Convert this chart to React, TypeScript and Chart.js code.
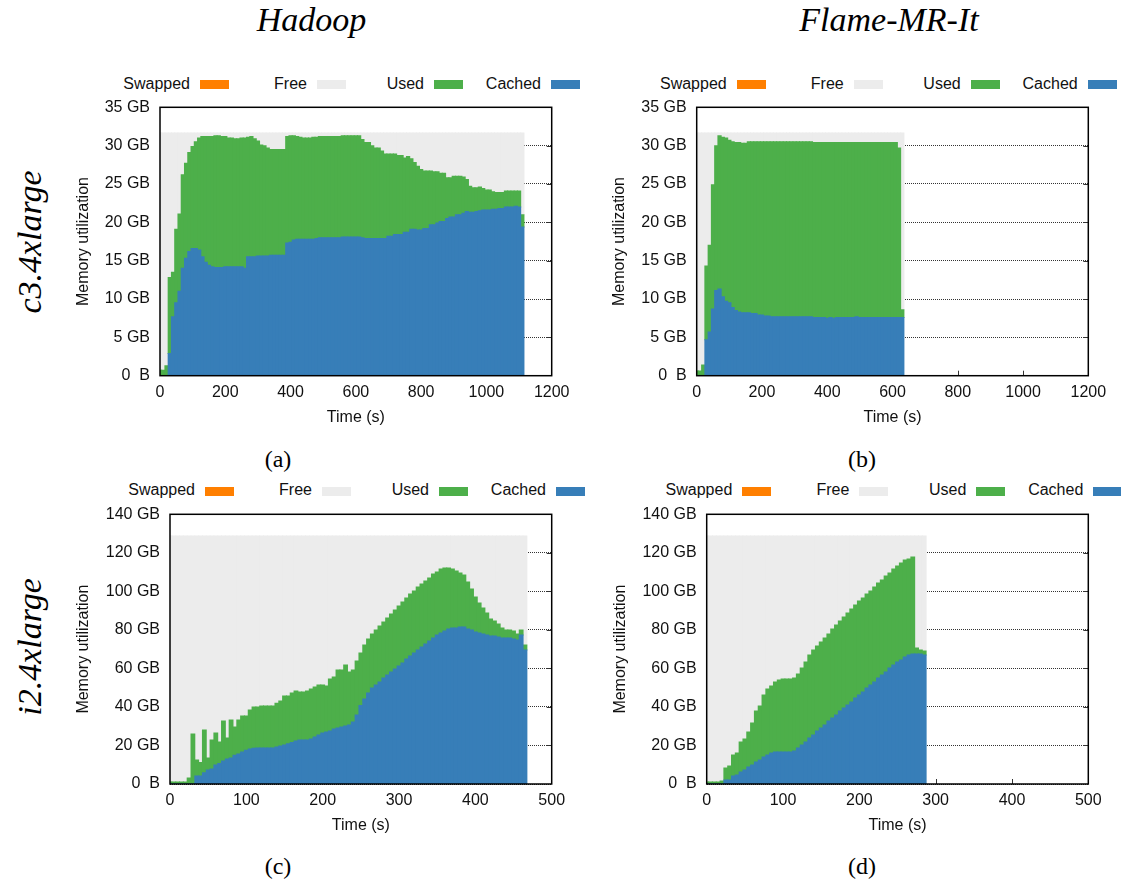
import React, { useEffect, useRef } from "react";
import { Chart, registerables } from "chart.js";

Chart.register(...registerables);

const SANS = "'Liberation Sans', Arial, Helvetica, sans-serif";
const SERIF = "'Liberation Serif', 'Times New Roman', serif";

// ---------------- data ----------------
const LEGEND_LABELS = ["Swapped", "Free", "Used", "Cached"];
const COL_TITLES = ["Hadoop", "Flame-MR-It"];
const ROW_TITLES = ["c3.4xlarge", "i2.4xlarge"];
const CAPTIONS = ["(a)", "(b)", "(c)", "(d)"];
const X_TITLE = "Time (s)";
const Y_TITLE = "Memory utilization";

const C3_TOTAL_GB = 31.65;
const I2_TOTAL_GB = 128.7;

const C3_Y_TICKS = [0, 5, 10, 15, 20, 25, 30, 35];
const C3_Y_LABELS = ["0  B", "5 GB", "10 GB", "15 GB", "20 GB", "25 GB", "30 GB", "35 GB"];
const I2_Y_TICKS = [0, 20, 40, 60, 80, 100, 120, 140];
const I2_Y_LABELS = ["0  B", "20 GB", "40 GB", "60 GB", "80 GB", "100 GB", "120 GB", "140 GB"];
const C3_X_TICKS = [0, 200, 400, 600, 800, 1000, 1200];
const I2_X_TICKS = [0, 100, 200, 300, 400, 500];

// (a) Hadoop, c3.4xlarge — one sample every 10 s
const A_INTERVAL_S = 10;
const A_CACHED = [
  0, 0, 0, 2.9, 7.7, 9.5, 11.0, 14.0, 15.3, 16.2,
  16.6, 16.6, 16.4, 15.5, 14.8, 14.4, 14.2, 14.1, 14.1, 14.1,
  14.2, 14.2, 14.2, 14.2, 14.2, 14.2, 14.0, 15.5, 15.5, 15.5,
  15.6, 15.6, 15.6, 15.6, 15.7, 15.7, 15.7, 15.7, 15.7, 17.3,
  17.4, 17.7, 17.8, 17.8, 17.8, 17.8, 17.8, 17.8, 17.9, 18.0,
  18.0, 18.0, 18.0, 18.0, 18.0, 18.0, 18.1, 18.1, 18.1, 18.1,
  18.1, 18.1, 18.0, 17.9, 17.9, 17.9, 17.9, 17.9, 17.9, 17.9,
  18.2, 18.2, 18.4, 18.4, 18.4, 18.7, 18.7, 19.1, 19.1, 19.0,
  19.0, 19.2, 19.2, 19.7, 19.7, 19.9, 20.1, 20.1, 20.5, 20.7,
  20.7, 21.0, 21.0, 21.2, 21.4, 21.3, 21.3, 21.4, 21.5, 21.6,
  21.6, 21.6, 21.7, 21.7, 21.8, 21.8, 22.0, 22.0, 22.0, 22.1,
  22.0, 19.4,
];
const A_USED = [
  0.7, 0.7, 1.3, 9.9, 5.8, 9.6, 10.1, 12.2, 12.4, 12.9,
  13.3, 13.9, 14.6, 15.7, 16.4, 16.8, 17.0, 17.2, 17.2, 17.1,
  17.0, 16.8, 16.8, 16.7, 16.7, 16.8, 17.0, 15.6, 15.7, 15.4,
  15.0, 14.5, 14.4, 14.1, 13.8, 13.8, 13.8, 13.8, 13.8, 13.9,
  13.9, 13.6, 13.4, 13.3, 13.2, 13.2, 13.2, 13.3, 13.2, 13.2,
  13.2, 13.2, 13.2, 13.2, 13.2, 13.2, 13.2, 13.2, 13.2, 13.2,
  13.2, 13.2, 12.8, 12.5, 12.5, 12.1, 11.8, 11.8, 11.4, 11.0,
  10.7, 10.7, 10.5, 10.3, 10.3, 9.7, 9.9, 9.2, 8.7, 8.3,
  7.9, 7.5, 7.5, 7.0, 6.9, 6.7, 6.3, 6.3, 5.3, 5.1,
  5.3, 5.0, 5.0, 4.7, 4.2, 3.4, 3.2, 3.1, 3.1, 2.8,
  2.6, 2.6, 2.3, 2.2, 2.1, 2.1, 2.1, 2.1, 2.1, 2.0,
  2.1, 1.6,
];

// (b) Flame-MR-It, c3.4xlarge — one sample every 10 s
const B_INTERVAL_S = 10;
const B_CACHED = [
  0, 0, 0, 4.7, 5.7, 8.7, 11.1, 11.3, 10.3, 9.7,
  9.5, 8.9, 8.5, 8.3, 8.2, 8.2, 8.2, 8.1, 8.1, 7.9,
  7.9, 7.8, 7.8, 7.7, 7.7, 7.7, 7.7, 7.7, 7.7, 7.7,
  7.7, 7.7, 7.7, 7.7, 7.7, 7.7, 7.6, 7.6, 7.6, 7.6,
  7.5, 7.6, 7.5, 7.6, 7.6, 7.6, 7.6, 7.6, 7.6, 7.7,
  7.6, 7.6, 7.6, 7.6, 7.6, 7.6, 7.6, 7.6, 7.6, 7.6,
  7.6, 7.6, 7.6, 7.6,
];
const B_USED = [
  0.6, 0.6, 1.4, 9.6, 11.3, 16.2, 18.9, 20.0, 20.8, 21.3,
  21.2, 21.6, 21.9, 22.1, 22.1, 22.1, 22.3, 22.4, 22.4, 22.6,
  22.6, 22.7, 22.7, 22.8, 22.8, 22.8, 22.8, 22.8, 22.8, 22.8,
  22.8, 22.8, 22.8, 22.8, 22.8, 22.8, 22.8, 22.8, 22.8, 22.8,
  22.9, 22.8, 22.9, 22.8, 22.8, 22.8, 22.8, 22.8, 22.8, 22.7,
  22.8, 22.8, 22.8, 22.8, 22.8, 22.8, 22.8, 22.8, 22.8, 22.8,
  22.8, 22.8, 22.1, 1.0,
];

// (c) Hadoop, i2.4xlarge — one sample every 5 s
const C_INTERVAL_S = 5;
const C_CACHED = [
  0, 0, 0, 0, 0, 0, 0, 4.2, 4.2, 5.9,
  7.3, 7.8, 9.9, 10.6, 11.9, 13.0, 13.5, 14.9, 15.6, 16.6,
  17.5, 18.2, 18.5, 18.7, 18.7, 18.7, 18.7, 18.7, 19.2, 19.7,
  20.2, 20.9, 21.5, 22.3, 22.8, 22.8, 22.8, 23.4, 24.4, 25.4,
  26.5, 27.0, 27.5, 28.6, 29.1, 29.6, 30.1, 30.6, 32.2, 35.8,
  40.7, 44.1, 47.2, 49.8, 51.4, 52.9, 55.0, 56.6, 58.1, 59.7,
  61.3, 62.8, 64.9, 66.4, 68.0, 69.6, 71.1, 72.7, 74.2, 75.8,
  77.3, 78.4, 79.4, 80.5, 81.0, 81.0, 81.5, 81.5, 80.5, 79.9,
  78.9, 78.4, 77.9, 77.3, 76.8, 76.8, 76.3, 75.8, 75.8, 75.8,
  75.3, 74.8, 77.3, 69.6,
];
const C_USED = [
  1.0, 1.0, 1.0, 1.0, 1.0, 3.1, 26.0, 8.3, 6.9, 22.1,
  6.2, 15.0, 16.6, 11.2, 20.8, 10.9, 19.7, 14.7, 17.6, 18.7,
  17.8, 20.2, 21.5, 21.3, 21.8, 21.8, 21.8, 21.8, 22.7, 23.4,
  25.5, 24.8, 25.7, 26.0, 25.0, 25.0, 25.5, 25.9, 26.0, 26.0,
  24.9, 23.9, 27.0, 26.9, 30.1, 29.6, 31.7, 27.5, 27.0, 28.1,
  27.3, 28.1, 28.1, 28.1, 28.5, 29.1, 29.1, 29.6, 30.2, 30.6,
  31.1, 31.7, 31.7, 32.2, 32.2, 32.7, 32.7, 32.7, 32.7, 33.2,
  32.8, 33.2, 32.7, 31.6, 30.6, 29.6, 28.0, 27.0, 24.4, 21.3,
  18.2, 15.6, 13.5, 11.5, 8.9, 7.8, 6.8, 5.2, 4.1, 4.1,
  4.1, 3.1, 2.6, 2.6,
];

// (d) Flame-MR-It, i2.4xlarge — one sample every 5 s
const D_INTERVAL_S = 5;
const D_CACHED = [
  0, 0, 0, 0, 0, 2.1, 2.1, 4.2, 4.7, 6.2,
  7.3, 8.8, 9.9, 11.4, 12.5, 14.0, 15.1, 16.1, 16.6, 16.6,
  16.6, 16.6, 16.6, 17.1, 18.7, 20.2, 21.8, 23.9, 25.4, 27.5,
  29.1, 30.6, 32.7, 34.3, 35.8, 37.9, 39.5, 41.0, 42.6, 44.6,
  46.2, 47.8, 49.8, 51.4, 53.0, 55.0, 56.6, 58.1, 60.2, 61.8,
  63.3, 64.4, 65.9, 67.0, 67.5, 67.5, 67.5, 67.0,
];
const D_USED = [
  1.0, 1.0, 1.0, 1.0, 1.6, 6.2, 7.2, 10.9, 11.4, 15.6,
  16.1, 18.2, 21.8, 26.5, 28.0, 32.2, 34.2, 34.8, 36.4, 37.4,
  37.9, 37.9, 37.9, 37.9, 38.4, 40.0, 41.5, 43.1, 44.2, 44.1,
  44.6, 45.2, 45.2, 46.2, 46.7, 46.7, 47.2, 47.8, 48.2, 48.3,
  48.8, 48.8, 48.8, 48.8, 49.3, 49.3, 49.3, 49.9, 49.3, 49.8,
  49.9, 50.3, 50.4, 49.8, 50.3, 3.1, 2.1, 2.0,
];

// ---------------- styling ----------------
const COLORS = {
  swapped: "#ff7f00",
  free: "#ececec",
  used: "#4daf4a",
  cached: "#377eb8",
};
const LEGEND_COLORS = [COLORS.swapped, COLORS.free, COLORS.used, COLORS.cached];
const TEXT = "#111";

type Spec = {
  plot: { l: number; t: number; r: number; b: number };
  yTitleX: number;
  legendX: number;
  legendBottom: number;
  caption: { x: number; y: number; text: string };
  xMax: number;
  xStep: number;
  xTicks: number[];
  yMax: number;
  yStep: number;
  yTicks: number[];
  yLabels: string[];
  interval: number;
  cached: number[];
  used: number[];
  total: number;
};

const SPECS: Spec[] = [
  {
    plot: { l: 160, t: 107.3, r: 551.7, b: 375.7 }, yTitleX: 83.3, legendX: 200, legendBottom: 89,
    caption: { x: 278, y: 461, text: CAPTIONS[0] },
    xMax: 1200, xStep: 200, xTicks: C3_X_TICKS, yMax: 35, yStep: 5, yTicks: C3_Y_TICKS, yLabels: C3_Y_LABELS,
    interval: A_INTERVAL_S, cached: A_CACHED, used: A_USED, total: C3_TOTAL_GB,
  },
  {
    plot: { l: 696.7, t: 107.3, r: 1088.3, b: 375.7 }, yTitleX: 620, legendX: 736.7, legendBottom: 89,
    caption: { x: 862, y: 461, text: CAPTIONS[1] },
    xMax: 1200, xStep: 200, xTicks: C3_X_TICKS, yMax: 35, yStep: 5, yTicks: C3_Y_TICKS, yLabels: C3_Y_LABELS,
    interval: B_INTERVAL_S, cached: B_CACHED, used: B_USED, total: C3_TOTAL_GB,
  },
  {
    plot: { l: 170, t: 514.3, r: 551.7, b: 784 }, yTitleX: 84, legendX: 205, legendBottom: 495.7,
    caption: { x: 278, y: 868, text: CAPTIONS[2] },
    xMax: 500, xStep: 100, xTicks: I2_X_TICKS, yMax: 140, yStep: 20, yTicks: I2_Y_TICKS, yLabels: I2_Y_LABELS,
    interval: C_INTERVAL_S, cached: C_CACHED, used: C_USED, total: I2_TOTAL_GB,
  },
  {
    plot: { l: 706.7, t: 514.3, r: 1088.3, b: 784 }, yTitleX: 620.7, legendX: 742.3, legendBottom: 495.7,
    caption: { x: 862, y: 868, text: CAPTIONS[3] },
    xMax: 500, xStep: 100, xTicks: I2_X_TICKS, yMax: 140, yStep: 20, yTicks: I2_Y_TICKS, yLabels: I2_Y_LABELS,
    interval: D_INTERVAL_S, cached: D_CACHED, used: D_USED, total: I2_TOTAL_GB,
  },
];

function geom(s: Spec) {
  const { l, t, r, b } = s.plot;
  const cx = Math.round(l) - 100;
  const cy = Math.round(t) - 8;
  const cw = Math.round(r) - cx + 30;
  const ch = Math.round(b) - cy + 57;
  return {
    cx, cy, cw, ch,
    yAxisW: l - cx,
    padTop: t - cy,
    padRight: cx + cw - r,
    xAxisH: cy + ch - b,
  };
}

const framePlugin = {
  id: "gnuplotFrame",
  beforeDatasetsDraw(chart: any) {
    const { ctx, chartArea: a, scales } = chart;
    const xs = scales.x;
    const ys = scales.y;
    ctx.save();
    ctx.strokeStyle = "#333";
    ctx.lineWidth = 1;
    ctx.beginPath();
    for (const tk of xs.ticks) {
      const px = Math.round(xs.getPixelForValue(tk.value)) + 0.5;
      if (px <= a.left + 2 || px >= a.right - 2) continue;
      ctx.moveTo(px, a.bottom);
      ctx.lineTo(px, a.bottom - 5);
    }
    for (const tk of ys.ticks) {
      const py = Math.round(ys.getPixelForValue(tk.value)) + 0.5;
      if (py >= a.bottom - 2 || py <= a.top + 2) continue;
      ctx.moveTo(a.left, py);
      ctx.lineTo(a.left + 5, py);
      ctx.moveTo(a.right, py);
      ctx.lineTo(a.right - 5, py);
    }
    ctx.stroke();
    ctx.restore();
  },
  afterDatasetsDraw(chart: any) {
    const { ctx, chartArea: a } = chart;
    ctx.save();
    ctx.strokeStyle = "#000";
    ctx.lineWidth = 1.5;
    ctx.strokeRect(a.left, a.top, a.right - a.left, a.bottom - a.top);
    ctx.restore();
  },
};

function buildConfig(s: Spec): any {
  const g = geom(s);
  const times = s.cached.map((_, i) => i * s.interval);
  const free = s.cached.map((c, i) => Math.max(0, Math.round((s.total - c - s.used[i]) * 100) / 100));
  const mk = (label: string, vals: number[], color: string) => ({
    label,
    data: vals.map((v, i) => ({ x: times[i], y: v })),
    backgroundColor: color,
    borderWidth: 0,
    barPercentage: 1,
    categoryPercentage: 1,
    inflateAmount: 0.5,
    clip: 0,
    stack: "mem",
  });
  const font = { family: SANS, size: 16 };
  return {
    type: "bar",
    data: {
      datasets: [
        mk(LEGEND_LABELS[3], s.cached, COLORS.cached),
        mk(LEGEND_LABELS[2], s.used, COLORS.used),
        mk(LEGEND_LABELS[1], free, COLORS.free),
      ],
    },
    options: {
      animation: false,
      responsive: false,
      maintainAspectRatio: false,
      events: [],
      layout: { padding: { left: 0, top: g.padTop, right: g.padRight, bottom: 0 } },
      plugins: { legend: { display: false }, tooltip: { enabled: false }, title: { display: false } },
      scales: {
        x: {
          type: "linear",
          min: 0,
          max: s.xMax,
          offset: false,
          stacked: true,
          ticks: {
            stepSize: s.xStep,
            padding: 7.2,
            color: TEXT,
            font,
            maxRotation: 0,
            autoSkip: false,
            callback: (v: number) => (s.xTicks.includes(v) ? String(v) : ""),
          },
          grid: { display: false, drawTicks: false, offset: false },
          border: { display: false },
          title: {
            display: true,
            text: X_TITLE,
            color: TEXT,
            font,
            padding: { top: 0, bottom: g.xAxisH - 42 - 9.6 },
          },
          afterFit: (sc: any) => {
            sc.height = g.xAxisH;
            sc.paddingLeft = 0;
            sc.paddingRight = 0;
          },
        },
        y: {
          type: "linear",
          min: 0,
          max: s.yMax,
          stacked: true,
          ticks: {
            stepSize: s.yStep,
            padding: 10,
            color: TEXT,
            font,
            callback: (v: number) => {
              const i = s.yTicks.indexOf(v);
              return i >= 0 ? s.yLabels[i] : "";
            },
          },
          grid: { color: "rgba(0,0,0,0.8)", lineWidth: 1, drawTicks: false },
          border: { display: false, dash: [1, 1] },
          title: {
            display: true,
            text: Y_TITLE,
            color: TEXT,
            font,
            padding: { top: s.yTitleX - g.cx - 9.6, bottom: 0 },
          },
          afterFit: (sc: any) => {
            sc.width = g.yAxisW;
            sc.paddingTop = 0;
            sc.paddingBottom = 0;
          },
        },
      },
    },
    plugins: [framePlugin],
  };
}

function Panel({ spec }: { spec: Spec }) {
  const ref = useRef<HTMLCanvasElement | null>(null);
  const g = geom(spec);
  useEffect(() => {
    if (!ref.current) return;
    const chart = new Chart(ref.current, buildConfig(spec));
    return () => chart.destroy();
  }, [spec]);
  return (
    <>
      <canvas
        ref={ref}
        width={g.cw}
        height={g.ch}
        style={{ position: "absolute", left: g.cx, top: g.cy, width: g.cw, height: g.ch }}
      />
      {LEGEND_LABELS.map((lab, i) => {
        const bx = spec.legendX + i * 117;
        return (
          <React.Fragment key={lab}>
            <div
              style={{
                position: "absolute",
                left: bx - 10 - 200,
                width: 200,
                top: spec.legendBottom - 13.5,
                height: 16,
                lineHeight: "16px",
                textAlign: "right",
                fontFamily: SANS,
                fontSize: 16,
                color: TEXT,
                whiteSpace: "nowrap",
              }}
            >
              {lab}
            </div>
            <div
              style={{
                position: "absolute",
                left: bx,
                top: spec.legendBottom - 9,
                width: 29,
                height: 9,
                background: LEGEND_COLORS[i],
              }}
            />
          </React.Fragment>
        );
      })}
      <div
        style={{
          position: "absolute",
          left: spec.caption.x - 50,
          width: 100,
          top: spec.caption.y - 14.2,
          height: 24,
          lineHeight: "24px",
          textAlign: "center",
          fontFamily: SERIF,
          fontSize: 24,
          color: "#000",
        }}
      >
        {spec.caption.text}
      </div>
    </>
  );
}

export default function App() {
  const colCenters = [311.5, 889];
  const rowCenters = [241.5, 647];
  return (
    <div
      style={{
        position: "absolute",
        left: 0,
        top: 0,
        width: 1121,
        height: 885,
        background: "#fff",
        overflow: "hidden",
      }}
    >
      {COL_TITLES.map((t, i) => (
        <div
          key={t}
          style={{
            position: "absolute",
            left: colCenters[i] - 150,
            width: 300,
            top: 2.5,
            height: 34,
            lineHeight: "34px",
            textAlign: "center",
            fontFamily: SERIF,
            fontStyle: "italic",
            fontSize: 34,
            color: "#000",
            whiteSpace: "nowrap",
          }}
        >
          {t}
        </div>
      ))}
      {ROW_TITLES.map((t, i) => (
        <div
          key={t}
          style={{
            position: "absolute",
            left: 30 - 100,
            top: rowCenters[i] - 20,
            width: 200,
            height: 40,
            lineHeight: "40px",
            textAlign: "center",
            fontFamily: SERIF,
            fontStyle: "italic",
            fontSize: 34,
            color: "#000",
            whiteSpace: "nowrap",
            transform: "rotate(-90deg)",
          }}
        >
          {t}
        </div>
      ))}
      {SPECS.map((s, i) => (
        <Panel key={i} spec={s} />
      ))}
    </div>
  );
}
